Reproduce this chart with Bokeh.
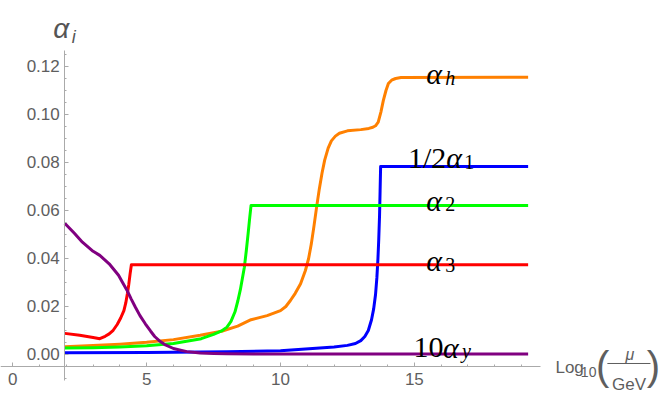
from bokeh.plotting import figure
from bokeh.models import Range1d, LinearAxis, SingleIntervalTicker, PrintfTickFormatter, Label
from bokeh.embed import file_html
from bokeh.resources import INLINE

# ---------------- data ----------------
# alpha_h (orange)
x_h = [1.94, 3.0, 4.0, 5.0, 6.0, 7.0, 7.8, 8.4, 8.9, 9.5, 10.0, 10.2, 10.37, 10.55, 10.75, 10.93, 11.05,
       11.15, 11.25, 11.35, 11.45, 11.55, 11.65, 11.78, 11.9, 12.05, 12.2, 12.5, 13.0, 13.3, 13.45, 13.55,
       13.65, 13.75, 13.84, 13.94, 14.03, 14.15, 14.3, 14.5, 19.25]
y_h = [0.0032, 0.0037, 0.0043, 0.0051, 0.0062, 0.0080, 0.0097, 0.0118, 0.0145, 0.0162, 0.0183, 0.0200,
       0.0225, 0.0255, 0.0295, 0.0350, 0.0400, 0.0460, 0.0535, 0.0615, 0.0690, 0.0755, 0.0810, 0.0860,
       0.0890, 0.0910, 0.0922, 0.0932, 0.0937, 0.0942, 0.0947, 0.0953, 0.0968, 0.1010, 0.1058, 0.1100,
       0.1129, 0.1143, 0.1150, 0.1154, 0.1155]
# 1/2 alpha_1 (blue)
x_1 = [1.94, 5.0, 8.0, 10.0, 10.8, 12.0, 12.5, 12.8, 13.0, 13.15, 13.28, 13.4, 13.48, 13.55, 13.6, 13.64,
       13.67, 13.7, 13.72, 13.74, 19.25]
y_1 = [0.0007, 0.0008, 0.0011, 0.0016, 0.0022, 0.0031, 0.0038, 0.0046, 0.0058, 0.0075, 0.0100, 0.0145,
       0.0190, 0.0250, 0.0320, 0.0400, 0.0480, 0.0580, 0.0680, 0.0783, 0.0783]
# alpha_2 (green)
x_2 = [1.94, 3.0, 4.0, 5.0, 6.0, 7.04, 7.5, 7.8, 8.0, 8.15, 8.3, 8.41, 8.5, 8.58, 8.65, 8.72, 8.79, 8.85,
       8.9, 19.25]
y_2 = [0.0027, 0.0028, 0.0031, 0.0036, 0.0046, 0.0066, 0.0084, 0.0098, 0.0114, 0.0138, 0.0178, 0.0225,
       0.0270, 0.0320, 0.0364, 0.0430, 0.0504, 0.0570, 0.0621, 0.0621]
# alpha_3 (red)
x_3 = [1.94, 2.5, 3.0, 3.25, 3.45, 3.6, 3.75, 3.9, 4.03, 4.15, 4.22, 4.28, 4.33, 4.38, 4.43, 19.25]
y_3 = [0.0088, 0.0080, 0.0071, 0.0066, 0.0076, 0.0086, 0.0101, 0.0125, 0.0152, 0.0183, 0.0215, 0.0253,
       0.0290, 0.0335, 0.0374, 0.0374]
# 10 alpha_y (purple)
x_y = [1.94, 2.3, 2.6, 3.0, 3.25, 3.6, 3.95, 4.1, 4.27, 4.42, 4.58, 4.75, 4.95, 5.15, 5.3, 5.5, 5.7, 6.0,
       6.5, 7.0, 7.5, 8.0, 9.0, 19.25]
y_y = [0.0547, 0.0505, 0.0468, 0.0430, 0.0413, 0.0378, 0.0330, 0.0300, 0.0267, 0.0232, 0.0197, 0.0162,
       0.0128, 0.0097, 0.0075, 0.0055, 0.0040, 0.0025, 0.0012, 0.0006, 0.0004, 0.0003, 0.0002, 0.0002]

series_x = [x_h, x_1, x_2, x_3, x_y]
series_y = [y_h, y_1, y_2, y_3, y_y]
series_colors = ["#FF8000", "#0000FF", "#00FF00", "#FF0000", "#800080"]

label_prefix = ["", "1/2", "", "", "10"]
label_greek = ["α", "α", "α", "α", "α"]
label_sub = ["h", "1", "2", "3", "y"]
label_sub_italic = [True, False, False, False, True]

x_ticks_major = 5
y_ticks_major = 0.02

# ---------------- layout constants ----------------
# label anchors (data units): prefix x, alpha x, subscript x, baseline y, subscript baseline y
label_pos = [
    (None, 15.44, 16.15, 0.1171, 0.1154),
    (14.76, 16.19, 16.86, 0.0820, 0.0803),
    (None, 15.44, 16.15, 0.0642, 0.0625),
    (None, 15.44, 16.15, 0.0390, 0.0373),
    (14.97, 16.07, 16.78, 0.0030, 0.0014),
]

XL, XR = -0.4595, 24.344
YB, YT = -0.016667, 0.1475

p = figure(width=664, height=394,
           x_range=Range1d(XL, XR), y_range=Range1d(YB, YT),
           output_backend="svg", toolbar_location=None,
           x_axis_type=None, y_axis_type=None, min_border=0)
p.outline_line_color = None
p.background_fill_color = "white"
p.border_fill_color = "white"

AXIS_COL = "#aaaaaa"
TXT_COL = "#5e5e5e"

xaxis = LinearAxis(fixed_location=-0.005, bounds=(XL, 19.71),
                   ticker=SingleIntervalTicker(interval=x_ticks_major, num_minor_ticks=5))
yaxis = LinearAxis(fixed_location=1.94, bounds=(-0.0108, 0.1267),
                   ticker=SingleIntervalTicker(interval=y_ticks_major, num_minor_ticks=4),
                   formatter=PrintfTickFormatter(format="%.2f"))
for ax in (xaxis, yaxis):
    ax.axis_line_color = AXIS_COL
    ax.axis_line_width = 1
    ax.major_tick_line_color = AXIS_COL
    ax.minor_tick_line_color = AXIS_COL
    ax.major_tick_in = 4
    ax.major_tick_out = 0
    ax.minor_tick_in = 2
    ax.minor_tick_out = 0
    ax.major_label_text_color = TXT_COL
    ax.major_label_text_font = "Liberation Sans"
    ax.major_label_text_font_size = "17px"
xaxis.major_label_standoff = 7
yaxis.major_label_standoff = 5
p.add_layout(xaxis, "below")
p.add_layout(yaxis, "left")

for xs, ys, c in zip(series_x, series_y, series_colors):
    p.line(xs, ys, line_color=c, line_width=3, line_join="round")

SERIF = "Liberation Serif"
for (px_, ax_, sx_, by, sby), pre, gr, sub, it in zip(label_pos, label_prefix, label_greek, label_sub, label_sub_italic):
    if pre:
        p.add_layout(Label(x=px_, y=by, text=pre, text_font=SERIF, text_font_size="30px",
                           text_color="black", text_baseline="alphabetic", text_align="left"))
    p.add_layout(Label(x=ax_, y=by, text=gr, text_font=SERIF, text_font_size="30px",
                       text_font_style="italic", text_color="black",
                       text_baseline="alphabetic", text_align="left"))
    p.add_layout(Label(x=sx_, y=sby, text=sub, text_font=SERIF, text_font_size="20px",
                       text_font_style="italic" if it else "normal", text_color="black",
                       text_baseline="alphabetic", text_align="left"))

# y axis title alpha_i
p.add_layout(Label(x=1.51, y=0.1357, text="α", text_font="Liberation Sans", text_font_size="28px",
                   text_font_style="italic", text_color="#555555", text_baseline="alphabetic"))
p.add_layout(Label(x=2.20, y=0.1322, text="i", text_font="Liberation Sans", text_font_size="18px",
                   text_font_style="italic", text_color="#555555", text_baseline="alphabetic"))

# x axis title Log10(mu/GeV)
SANS = "Liberation Sans"
p.add_layout(Label(x=20.27, y=-0.0054, text="Log", text_font=SANS, text_font_size="17px",
                   text_color=TXT_COL, text_baseline="alphabetic"))
p.add_layout(Label(x=21.22, y=-0.0074, text="10", text_font=SANS, text_font_size="14px",
                   text_color=TXT_COL, text_baseline="alphabetic"))
p.add_layout(Label(x=22.03, y=-0.0046, text="(", text_font=SANS, text_font_size="40px",
                   text_color=TXT_COL, text_baseline="middle", text_align="center"))
p.add_layout(Label(x=23.93, y=-0.0046, text=")", text_font=SANS, text_font_size="40px",
                   text_color=TXT_COL, text_baseline="middle", text_align="center"))
p.add_layout(Label(x=23.05, y=0.0000, text="μ", text_font=SANS, text_font_size="16px",
                   text_font_style="italic", text_color=TXT_COL, text_baseline="alphabetic",
                   text_align="center"))
p.add_layout(Label(x=23.02, y=-0.0125, text="GeV", text_font=SANS, text_font_size="17px",
                   text_color=TXT_COL, text_baseline="alphabetic", text_align="center"))
p.line([22.21, 23.82], [-0.00375, -0.00375], line_color=TXT_COL, line_width=1)

open("out.html", "w").write(file_html(p, INLINE))
